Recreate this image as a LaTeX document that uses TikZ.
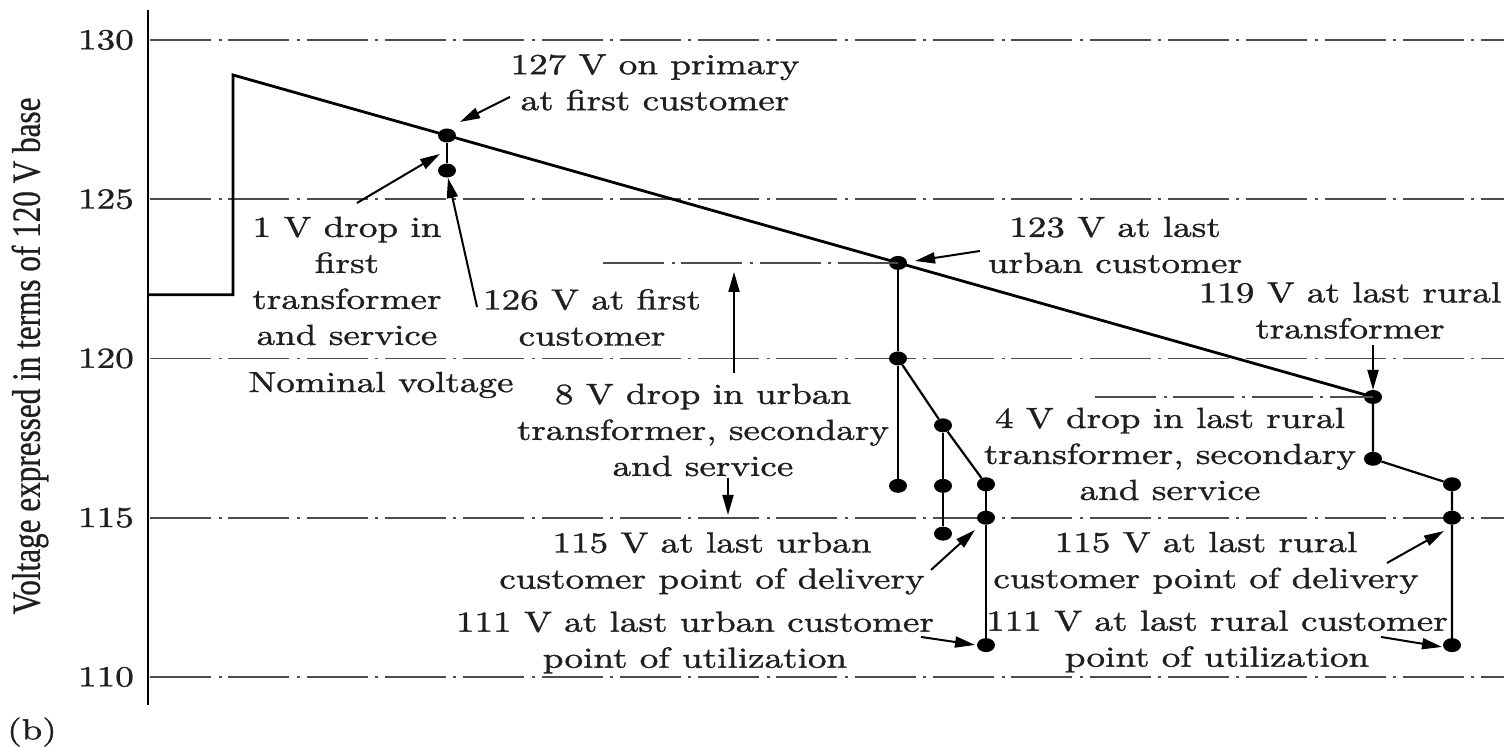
\documentclass[tikz,border=0pt]{standalone}
\usepackage{fontspec}
\setmainfont{lmroman10-regular}[Extension=.otf, FakeStretch=1.28, FakeBold=1.2]
\newfontfamily\axisfont{Liberation Serif}[FakeStretch=0.78, FakeBold=0.6]
\usetikzlibrary{arrows.meta, shapes.geometric}

\tikzset{
  grid line/.style={line width=1.8pt, black!70, dash pattern=on 61pt off 7.5pt on 3pt off 6.8pt},
  dot/.style={ellipse, fill=black, inner sep=0pt, minimum width=18pt, minimum height=14pt},
  wire/.style={line width=2.2pt},
  feeder/.style={line width=2.8pt},
  callout/.style={line width=2pt, -{Triangle[length=20pt, width=11pt]}},
  lbl/.style={align=center, font=\fontsize{29}{36}\selectfont, text=black!88, inner sep=0pt},
  tick/.style={anchor=east, font=\fontsize{29}{36}\selectfont, text=black!88, inner sep=0pt},
}

\begin{document}
\begin{tikzpicture}[x=1pt, y=31.85pt]
\useasboundingbox[fill=white] (0,107.771) rectangle (1504,131.256);

% voltage grid and scale
\foreach \v in {130,125,120,115,110}
  \draw[grid line] (150,\v) -- (1504,\v);
\foreach \v in {130,125,120,115,110}
  \node[tick] (tick\v) at (134,\v) {\v};
\draw[line width=2.6pt] (148,130.942) -- (148,109.12);
\node[rotate=90, inner sep=0pt, text=black!88, font=\axisfont\fontsize{40}{44}\selectfont]
  (ytitle) at (30,120.08) {Voltage expressed in terms of 120 V base};
\node[lbl] (panel) at (32,108.27) {(b)};

% measuring points
\node[dot] (d127) at (447,127) {};
\node[dot] (d126) at (447,125.9) {};
\node[dot] (dU123) at (898,123) {};
\node[dot] (dU120) at (898,120) {};
\node[dot] (dU116a) at (898,116) {};
\node[dot] (dU118) at (943,117.9) {};
\node[dot] (dU116b) at (943,116) {};
\node[dot] (dU114) at (943,114.5) {};
\node[dot] (dU116c) at (986,116.05) {};
\node[dot] (dU115) at (986,115) {};
\node[dot] (dU111) at (986,111) {};
\node[dot] (dR119) at (1373,118.79) {};
\node[dot] (dR117) at (1373,116.85) {};
\node[dot] (dR116) at (1452,116.05) {};
\node[dot] (dR115) at (1452,115) {};
\node[dot] (dR111) at (1452,111) {};

% primary feeder profile
\coordinate (s0) at (148,122);
\coordinate (s1) at (233,122);
\coordinate (s2) at (233,128.9);
\draw[feeder] (s0) -- (s1) -- (s2) -- (dR119.center);

% reference levels at the last transformers
\coordinate (r123) at (603,123);
\coordinate (r119) at (1095,118.79);
\draw[grid line] (r123) -- (dU123.center);
\draw[grid line] (r119) -- (dR119.center);

% drops through transformers, secondaries and services
\draw[wire] (d127) -- (d126);
\draw[wire] (dU123) -- (dU120) -- (dU116a);
\draw[wire] (dU120) -- (dU118) -- (dU116c);
\draw[wire] (dU118) -- (dU116b) -- (dU114);
\draw[wire] (dU116c) -- (dU115) -- (dU111);
\draw[wire] (dR119) -- (dR117) -- (dR116) -- (dR115) -- (dR111);

% labels
\node[lbl] (t127) at (655,128.666) {127 V on primary\\at first customer};
\node[lbl] (t1v) at (347,122.433) {1 V drop in\\first\\transformer\\and service};
\node[lbl] (tnom) at (381,119.168) {Nominal voltage};
\node[lbl] (t126) at (592,121.287) {126 V at first\\customer};
\node[lbl] (t8v) at (703,117.755) {8 V drop in urban\\transformer, secondary\\and service};
\node[lbl] (tu115) at (712,113.564) {115 V at last urban\\customer point of delivery};
\node[lbl] (tu111) at (695,111.083) {111 V at last urban customer\\point of utilization};
\node[lbl] (t123) at (1115,123.564) {123 V at last\\urban customer};
\node[lbl] (t119) at (1350,121.507) {119 V at last rural\\transformer};
\node[lbl] (t4v) at (1170,117.0) {4 V drop in last rural\\transformer, secondary\\and service};
\node[lbl] (tr115) at (1206,113.579) {115 V at last rural\\customer point of delivery};
\node[lbl] (tr111) at (1217,111.115) {111 V at last rural customer\\point of utilization};

% callout arrows
\coordinate (a127) at (510,128.21);   \coordinate (h127) at (460,127.425);
\coordinate (a1v) at (357,124.882);   \coordinate (h1v) at (440,126.421);
\coordinate (a126) at (477,121.617);  \coordinate (h126) at (448,125.667);
\coordinate (a8up) at (734,119.545);  \coordinate (h8up) at (734,122.716);
\coordinate (a8dn) at (728,116.248);  \coordinate (h8dn) at (728,115.086);
\coordinate (a123) at (980,123.375);  \coordinate (h123) at (915,123.061);
\coordinate (a119) at (1373,120.424); \coordinate (h119) at (1373,119.011);
\coordinate (au115) at (931,113.36);  \coordinate (hu115) at (975,114.615);
\coordinate (au111) at (921,111.256); \coordinate (hu111) at (975,111.005);
\coordinate (ar115) at (1387,113.579);\coordinate (hr115) at (1444,114.584);
\coordinate (ar111) at (1381,111.256);\coordinate (hr111) at (1442,110.942);

\draw[callout] (a127) -- (h127);
\draw[callout] (a1v) -- (h1v);
\draw[callout] (a126) -- (h126);
\draw[callout] (a8up) -- (h8up);
\draw[callout] (a8dn) -- (h8dn);
\draw[callout] (a123) -- (h123);
\draw[callout] (a119) -- (h119);
\draw[callout] (au115) -- (hu115);
\draw[callout] (au111) -- (hu111);
\draw[callout] (ar115) -- (hr115);
\draw[callout] (ar111) -- (hr111);
\end{tikzpicture}
\end{document}
